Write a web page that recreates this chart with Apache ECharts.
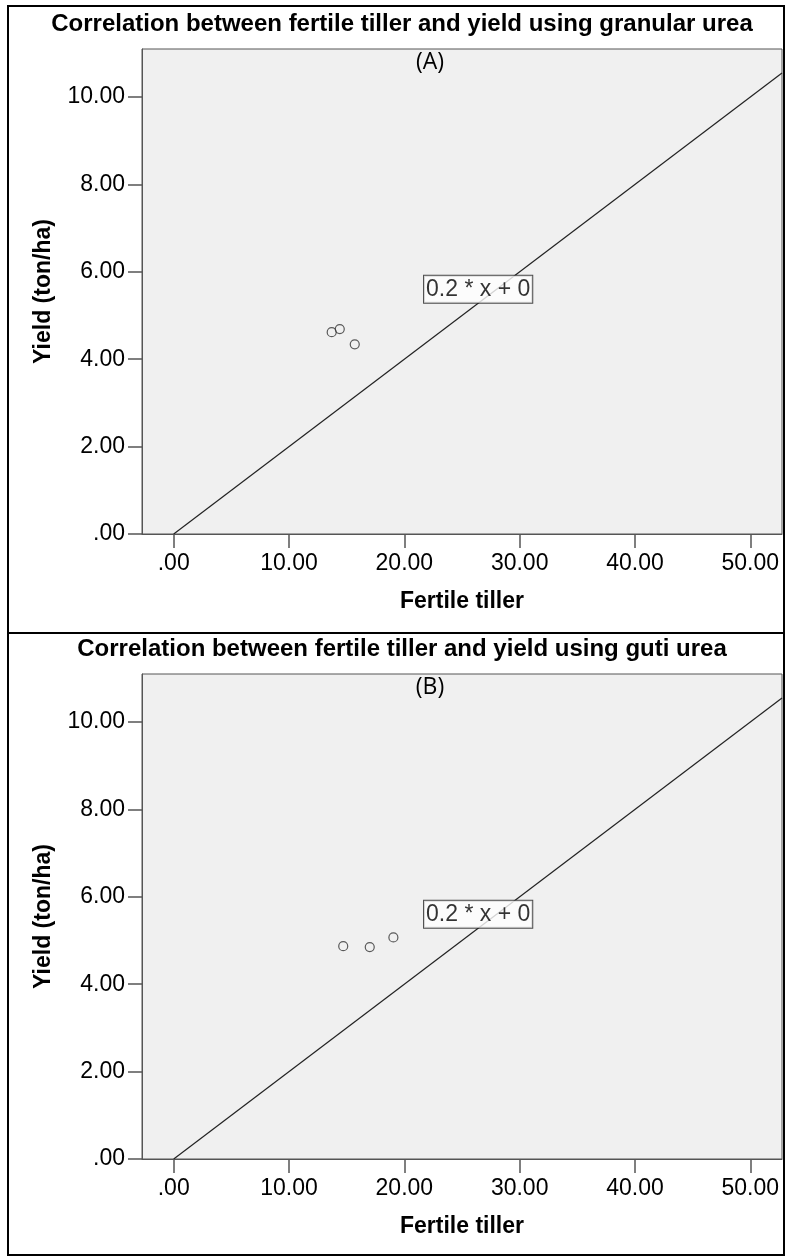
<!DOCTYPE html>
<html>
<head>
<meta charset="utf-8">
<script src="https://cdn.jsdelivr.net/npm/echarts@6/dist/echarts.min.js"></script>
<style>
html,body{margin:0;padding:0;background:#fff;}
#chart{width:785px;height:1257px;}
</style>
</head>
<body>
<div id="chart"></div>
<script>
// ---- data ----
const panelTitles = [
  'Correlation between fertile tiller and yield using granular urea',
  'Correlation between fertile tiller and yield using guti urea'
];
const panelTags = ['(A)', '(B)'];
const xAxisName = 'Fertile tiller';
const yAxisName = 'Yield (ton/ha)';
const fertileTillerA = [13.7, 14.4, 15.7];
const yieldA = [4.62, 4.69, 4.34];
const fertileTillerB = [14.7, 17.0, 19.05];
const yieldB = [4.87, 4.85, 5.07];
const fitSlope = 0.2;
const fitIntercept = 0;
const fitLabel = '0.2 * x + 0';
const fitLabelPos = [26.4, 5.6];
const xTicks = [0, 10, 20, 30, 40, 50];
const yTicks = [0, 2, 4, 6, 8, 10];
const xRange = [-2.75, 52.75];
const yRange = [0, 11.1];

// ---- layout ----
const panelOffset = 625;
const grids = [0, 1].map(i => ({
  left: 142, top: 49 + i * panelOffset, width: 640, height: 485,
  show: true, backgroundColor: '#f0f0f0', borderColor: '#555', borderWidth: 1
}));
const fmt = v => (v === 0 ? '.00' : v.toFixed(2));
const tickColor = '#555';

const xAxes = [0, 1].map(i => ({
  type: 'value', gridIndex: i, min: xRange[0], max: xRange[1],
  name: xAxisName, nameLocation: 'middle', nameGap: 56,
  nameTextStyle: { fontFamily: 'Arial, Liberation Sans', fontWeight: 'bold', fontSize: 23, color: '#000' },
  axisLine: { show: true, onZero: false, lineStyle: { color: tickColor, width: 1 } },
  axisTick: { show: true, length: 14, customValues: xTicks, lineStyle: { color: tickColor, width: 1.5 } },
  axisLabel: { customValues: xTicks, formatter: fmt, margin: 18, fontFamily: 'Arial, Liberation Sans', fontSize: 23, color: '#000' },
  splitLine: { show: false }
}));
const yAxes = [0, 1].map(i => ({
  type: 'value', gridIndex: i, min: yRange[0], max: yRange[1],
  name: yAxisName, nameLocation: 'middle', nameGap: 87, nameRotate: 90,
  nameTextStyle: { fontFamily: 'Arial, Liberation Sans', fontWeight: 'bold', fontSize: 23, color: '#000' },
  axisLine: { show: true, onZero: false, lineStyle: { color: tickColor, width: 1 } },
  axisTick: { show: true, length: 14, customValues: yTicks, lineStyle: { color: tickColor, width: 1.5 } },
  axisLabel: { customValues: yTicks, formatter: fmt, margin: 17, fontFamily: 'Arial, Liberation Sans', fontSize: 23, color: '#000' },
  splitLine: { show: false }
}));

const fitLine = i => ({
  type: 'line', xAxisIndex: i, yAxisIndex: i, silent: true, showSymbol: false, symbol: 'none',
  lineStyle: { color: '#222', width: 1.2 },
  data: [[0, fitIntercept], [xRange[1], fitSlope * xRange[1] + fitIntercept]],
  z: 3
});
const pointsSeries = (i, xs, ys) => ({
  type: 'scatter', xAxisIndex: i, yAxisIndex: i, symbol: 'circle', symbolSize: 9,
  itemStyle: { color: 'rgba(0,0,0,0)', borderColor: '#333', borderWidth: 1.2 },
  data: xs.map((x, k) => [x, ys[k]]), z: 4
});
const labelSeries = i => ({
  type: 'scatter', xAxisIndex: i, yAxisIndex: i, symbolSize: 0, silent: true,
  data: [fitLabelPos],
  label: {
    show: true, position: 'inside', formatter: fitLabel,
    fontFamily: 'Arial, Liberation Sans', fontSize: 23, color: '#000',
    backgroundColor: '#fff', borderColor: '#222', borderWidth: 1, padding: [3, 2, 1, 2]
  },
  z: 5
});

const graphics = [];
[0, 1].forEach(i => {
  graphics.push({
    type: 'rect', shape: { x: 8, y: 6 + i * 627, width: 776, height: i === 0 ? 627 : 622 },
    style: { fill: 'none', stroke: '#000', lineWidth: 2 }, z: 100
  });
  graphics.push({
    type: 'text', x: 402, y: 24 + i * panelOffset,
    style: { text: panelTitles[i], textAlign: 'center', textVerticalAlign: 'middle',
      font: 'bold 24px Arial, "Liberation Sans"', fill: '#000' }, z: 100
  });
  graphics.push({
    type: 'text', x: 430, y: 62 + i * panelOffset,
    style: { text: panelTags[i], textAlign: 'center', textVerticalAlign: 'middle',
      font: '23px "Open Sans", Arial', fill: '#000' }, z: 100
  });
});

const chart = echarts.init(document.getElementById('chart'), null, { renderer: 'canvas' });
chart.setOption({
  animation: false,
  backgroundColor: '#fff',
  grid: grids,
  xAxis: xAxes,
  yAxis: yAxes,
  series: [
    fitLine(0), pointsSeries(0, fertileTillerA, yieldA), labelSeries(0),
    fitLine(1), pointsSeries(1, fertileTillerB, yieldB), labelSeries(1)
  ],
  graphic: graphics
});
</script>
</body>
</html>
